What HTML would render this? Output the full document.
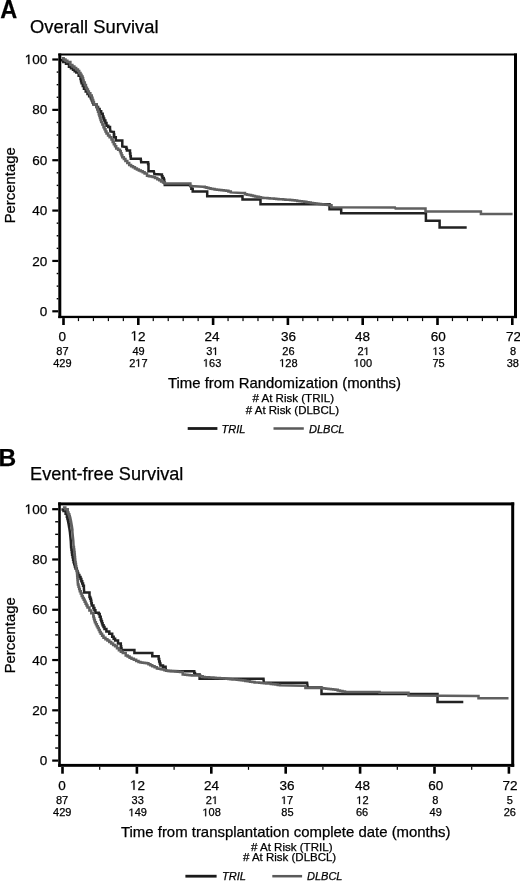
<!DOCTYPE html>
<html><head><meta charset="utf-8"><style>
html,body{margin:0;padding:0;background:#fff;}
svg text{stroke:#000;stroke-width:0.25px;}
svg{display:block;font-family:"Liberation Sans", sans-serif;will-change:transform;}
</style></head><body>
<svg width="520" height="881" viewBox="0 0 520 881">
<rect x="0" y="0" width="520" height="881" fill="#fff"/>
<text x="0.2" y="17.8" font-size="25" font-weight="bold" fill="#000" textLength="17" lengthAdjust="spacingAndGlyphs">A</text>
<text x="30" y="33.2" font-size="19.2" textLength="128.5" lengthAdjust="spacingAndGlyphs" fill="#000">Overall Survival</text>
<text x="-1.6" y="465.5" font-size="24.5" fill="#000"><tspan font-weight="bold">B</tspan></text>
<text x="30.1" y="480.2" font-size="18.6" textLength="153.3" lengthAdjust="spacingAndGlyphs" fill="#000">Event-free Survival</text>
<polyline points="60.61,60.13 63.31,60.13 63.31,61.94 66.01,61.94 66.01,63.76 68.96,63.76 68.96,66.71 70.98,66.71 70.98,68.23 73,68.23 73,69.75 74.66,69.75 74.66,71.17 76.32,71.17 76.32,72.59 78.65,72.59 78.65,75.87 80.52,75.87 80.52,79.1 81.05,79.1 81.05,81.17 81.59,81.17 81.59,83.24 82.78,83.24 82.78,85.98 83.97,85.98 83.97,88.72 85.72,88.72 85.72,91.42 87.48,91.42 87.48,94.12 89.13,94.12 89.13,96.24 90.78,96.24 90.78,98.36 91.67,98.36 91.67,100.37 92.56,100.37 92.56,102.38 93.45,102.38 93.45,104.39 96.5,104.39 96.5,107 98.05,107 98.05,109.1 99.6,109.1 99.6,111.2 101.15,111.2 101.15,113.85 102.7,113.85 102.7,116.5 103.45,116.5 103.45,118.45 104.2,118.45 104.2,120.4 105.35,120.4 105.35,123.1 106.5,123.1 106.5,125.8 108.25,125.8 108.25,126.95 110,126.95 110,128.1 110.4,131.5 113.5,131.9 113.85,131.9 113.85,134.6 114.2,134.6 114.2,137.3 115.8,137.3 115.8,140.4 122.3,140.4 122.3,146.5 125.8,146.9 126.35,146.9 126.35,148.65 126.9,148.65 126.9,150.4 130,150.4 130,153.5 130.4,153.5 130.4,156.15 130.8,156.15 130.8,158.8 140.8,158.8 141.2,162.3 147.7,162.3 148.1,162.3 148.1,164.05 148.5,164.05 148.5,165.8 148.5,171.2 153.8,171.2 154.4,174 161.3,174.6 161.9,174.6 161.9,176.3 162.5,176.3 162.5,178 163.7,178 163.7,179.8 164.25,179.8 164.25,182.4 164.8,182.4 164.8,185 189.6,185 190,186 191.35,186 191.35,188.75 192.7,188.75 192.7,191.5 207.2,191.5 207.2,196.2 242.5,196.2 242.5,199.5 260.5,199.5 260.5,204.2 329.5,204.2 329.5,209.2 341.2,209.2 341.2,213.3 425.9,213.3 425.9,220.8 439.6,220.8 439.6,227.4 466.7,227.4" fill="none" stroke="#222" stroke-width="2.5" stroke-linejoin="miter" stroke-linecap="butt"/>
<polyline points="61.83,58.3 63.68,58.3 63.68,59.54 65.53,59.54 65.53,60.79 67.37,60.79 67.37,62.03 70.39,62.03 70.39,65.04 72.38,65.04 72.38,66.54 74.37,66.54 74.37,68.03 76.16,68.03 76.16,69.56 77.94,69.56 77.94,71.09 79.22,71.09 79.22,72.88 80.5,72.88 80.5,74.68 81.53,74.68 81.53,76.48 82.56,76.48 82.56,78.28 83.11,78.28 83.11,80.39 83.66,80.39 83.66,82.5 84.8,82.5 84.8,85.11 85.94,85.11 85.94,87.73 86.92,87.73 86.92,89.58 87.9,89.58 87.9,91.42 88.88,91.42 88.88,93.27 90.33,93.27 90.33,95.57 91.77,95.57 91.77,97.87 92.49,97.87 92.49,99.95 93.21,99.95 93.21,102.04 93.93,102.04 93.93,104.13 96.5,104.13 96.5,107 97.27,107 97.27,109.4 98.03,109.4 98.03,111.8 98.8,111.8 98.8,114.2 99.4,114.2 99.4,116.12 100,116.12 100,118.05 100.6,118.05 100.6,119.98 101.2,119.98 101.2,121.9 102.35,121.9 102.35,124.6 103.5,124.6 103.5,127.3 104.5,127.3 104.5,129.37 105.5,129.37 105.5,131.43 106.5,131.43 106.5,133.5 108.05,133.5 108.05,135.4 109.6,135.4 109.6,137.3 111.5,137.3 111.5,139.6 112.65,139.6 112.65,141.9 113.8,141.9 113.8,144.2 115,144.2 115,146.35 116.2,146.35 116.2,148.5 118.1,148.5 118.1,149.85 120,149.85 120,151.2 120.77,151.2 120.77,153.2 121.53,153.2 121.53,155.2 122.3,155.2 122.3,157.2 123.85,157.2 123.85,159.1 125.4,159.1 125.4,161 127.3,161 127.3,163 129.2,163 129.2,165 131.1,165 131.1,166.15 133,166.15 133,167.3 134.95,167.3 134.95,168.45 136.9,168.45 136.9,169.6 138.85,169.6 138.85,170.4 140.8,170.4 140.8,171.2 142.7,171.2 142.7,172.35 144.6,172.35 144.6,173.5 147,173.5 147,175.8 148.9,175.8 148.9,176.17 150.8,176.17 150.8,176.53 152.7,176.53 152.7,176.9 155,176.9 155,178.05 157.3,178.05 157.3,179.2 159.2,179.2 159.2,180.3 161.1,180.3 161.1,181.4 163,181.4 163,182.5 164.8,182.5 164.8,183.5 189.4,183.5 190.4,183.5 190.4,186.1 203,186.7 204.75,186.7 204.75,187.25 206.5,187.25 206.5,187.8 208.53,187.8 208.53,188.23 210.55,188.23 210.55,188.65 212.57,188.65 212.57,189.07 214.6,189.07 214.6,189.5 216.88,189.5 216.88,189.74 219.16,189.74 219.16,189.98 221.44,189.98 221.44,190.22 223.72,190.22 223.72,190.46 226,190.46 226,190.7 228.4,190.7 228.4,191.55 230.8,191.55 230.8,192.4 242,193 245,193 245,194.2 247,194.2 247,194.65 249,194.65 249,195.1 251,195.1 251,195.55 253,195.55 253,196 255,196 255,196.43 257,196.43 257,196.85 259,196.85 259,197.27 261,197.27 261,197.7 263.17,197.7 263.17,197.88 265.33,197.88 265.33,198.07 267.5,198.07 267.5,198.25 269.67,198.25 269.67,198.43 271.83,198.43 271.83,198.62 274,198.62 274,198.8 276.29,198.8 276.29,198.97 278.57,198.97 278.57,199.14 280.86,199.14 280.86,199.31 283.14,199.31 283.14,199.49 285.43,199.49 285.43,199.66 287.71,199.66 287.71,199.83 290,199.83 290,200 292.4,200 292.4,200.3 294.8,200.3 294.8,200.6 297.2,200.6 297.2,200.9 299.6,200.9 299.6,201.2 302,201.2 302,201.5 304.2,201.5 304.2,201.86 306.4,201.86 306.4,202.22 308.6,202.22 308.6,202.58 310.8,202.58 310.8,202.94 313,202.94 313,203.3 315,203.3 315,203.52 317,203.52 317,203.74 319,203.74 319,203.96 321,203.96 321,204.18 323,204.18 323,204.4 325.33,204.4 325.33,204.67 327.67,204.67 327.67,204.93 330,204.93 330,205.2 331.5,205.2 331.5,207.3 395,207.4 395.5,208.4 424.8,208.4 425.5,208.4 425.5,211.6 479.8,211.5 480.9,211.5 480.9,214 512.6,214" fill="none" stroke="#606060" stroke-width="2.5" stroke-linejoin="miter" stroke-linecap="butt"/>
<rect x="58.3" y="53.5" width="3" height="264.6" fill="#000"/>
<rect x="58.3" y="53.5" width="458.7" height="2" fill="#000"/>
<rect x="514" y="53.5" width="3" height="264.6" fill="#000"/>
<rect x="58.3" y="315.8" width="458.7" height="2.3" fill="#000"/>
<rect x="52.3" y="310.2" width="6" height="2.2" fill="#000"/>
<text x="39.79" y="315.9" font-size="13.5" fill="#000">0</text>
<rect x="56.7" y="298.01" width="1.6" height="1.4" fill="#000"/>
<rect x="56.7" y="285.42" width="1.6" height="1.4" fill="#000"/>
<rect x="56.7" y="272.83" width="1.6" height="1.4" fill="#000"/>
<rect x="52.3" y="259.84" width="6" height="2.2" fill="#000"/>
<text x="32.28" y="265.54" font-size="13.5" fill="#000">2</text>
<text x="39.79" y="265.54" font-size="13.5" fill="#000">0</text>
<rect x="56.7" y="247.65" width="1.6" height="1.4" fill="#000"/>
<rect x="56.7" y="235.06" width="1.6" height="1.4" fill="#000"/>
<rect x="56.7" y="222.47" width="1.6" height="1.4" fill="#000"/>
<rect x="52.3" y="209.48" width="6" height="2.2" fill="#000"/>
<text x="32.28" y="215.18" font-size="13.5" fill="#000">4</text>
<text x="39.79" y="215.18" font-size="13.5" fill="#000">0</text>
<rect x="56.7" y="197.29" width="1.6" height="1.4" fill="#000"/>
<rect x="56.7" y="184.7" width="1.6" height="1.4" fill="#000"/>
<rect x="56.7" y="172.11" width="1.6" height="1.4" fill="#000"/>
<rect x="52.3" y="159.12" width="6" height="2.2" fill="#000"/>
<text x="32.28" y="164.82" font-size="13.5" fill="#000">6</text>
<text x="39.79" y="164.82" font-size="13.5" fill="#000">0</text>
<rect x="56.7" y="146.93" width="1.6" height="1.4" fill="#000"/>
<rect x="56.7" y="134.34" width="1.6" height="1.4" fill="#000"/>
<rect x="56.7" y="121.75" width="1.6" height="1.4" fill="#000"/>
<rect x="52.3" y="108.76" width="6" height="2.2" fill="#000"/>
<text x="32.28" y="114.46" font-size="13.5" fill="#000">8</text>
<text x="39.79" y="114.46" font-size="13.5" fill="#000">0</text>
<rect x="56.7" y="96.57" width="1.6" height="1.4" fill="#000"/>
<rect x="56.7" y="83.98" width="1.6" height="1.4" fill="#000"/>
<rect x="56.7" y="71.39" width="1.6" height="1.4" fill="#000"/>
<rect x="52.3" y="58.4" width="6" height="2.2" fill="#000"/>
<path d="M28.17,64.1 L28.17,55.95 L26.07,57.44 L26.07,56.32 L28.27,54.81 L29.36,54.81 L29.36,64.1 Z" fill="#000" stroke="#000" stroke-width="0.25"/>
<text x="32.28" y="64.1" font-size="13.5" fill="#000">0</text>
<text x="39.79" y="64.1" font-size="13.5" fill="#000">0</text>
<rect x="62.2" y="318.1" width="2.6" height="6.9" fill="#000"/>
<text x="58.55" y="340.5" font-size="13.5" fill="#000">0</text>
<text x="56.28" y="355" font-size="11" fill="#000">8</text>
<text x="62.4" y="355" font-size="11" fill="#000">7</text>
<text x="53.22" y="366.7" font-size="11" fill="#000">4</text>
<text x="59.34" y="366.7" font-size="11" fill="#000">2</text>
<text x="65.46" y="366.7" font-size="11" fill="#000">9</text>
<rect x="77.86" y="318.1" width="1.2" height="3" fill="#000"/>
<rect x="92.82" y="318.1" width="1.2" height="3" fill="#000"/>
<rect x="107.78" y="318.1" width="1.2" height="3" fill="#000"/>
<rect x="122.74" y="318.1" width="1.2" height="3" fill="#000"/>
<rect x="137" y="318.1" width="2.6" height="6.9" fill="#000"/>
<path d="M133.99,340.5 L133.99,332.35 L131.89,333.84 L131.89,332.72 L134.09,331.21 L135.18,331.21 L135.18,340.5 Z" fill="#000" stroke="#000" stroke-width="0.25"/>
<text x="138.1" y="340.5" font-size="13.5" fill="#000">2</text>
<text x="132.48" y="355" font-size="11" fill="#000">4</text>
<text x="138.6" y="355" font-size="11" fill="#000">9</text>
<text x="129.22" y="366.7" font-size="11" fill="#000">2</text>
<path d="M138.11,366.7 L138.11,360.06 L136.4,361.28 L136.4,360.36 L138.19,359.13 L139.08,359.13 L139.08,366.7 Z" fill="#000" stroke="#000" stroke-width="0.25"/>
<text x="141.46" y="366.7" font-size="11" fill="#000">7</text>
<rect x="152.66" y="318.1" width="1.2" height="3" fill="#000"/>
<rect x="167.62" y="318.1" width="1.2" height="3" fill="#000"/>
<rect x="182.58" y="318.1" width="1.2" height="3" fill="#000"/>
<rect x="197.54" y="318.1" width="1.2" height="3" fill="#000"/>
<rect x="211.8" y="318.1" width="2.6" height="6.9" fill="#000"/>
<text x="204.59" y="340.5" font-size="13.5" fill="#000">2</text>
<text x="212.1" y="340.5" font-size="13.5" fill="#000">4</text>
<text x="206.18" y="355" font-size="11" fill="#000">3</text>
<path d="M215.07,355 L215.07,348.36 L213.36,349.58 L213.36,348.66 L215.15,347.43 L216.04,347.43 L216.04,355 Z" fill="#000" stroke="#000" stroke-width="0.25"/>
<path d="M205.69,366.7 L205.69,360.06 L203.98,361.28 L203.98,360.36 L205.77,359.13 L206.66,359.13 L206.66,366.7 Z" fill="#000" stroke="#000" stroke-width="0.25"/>
<text x="209.04" y="366.7" font-size="11" fill="#000">6</text>
<text x="215.16" y="366.7" font-size="11" fill="#000">3</text>
<rect x="227.46" y="318.1" width="1.2" height="3" fill="#000"/>
<rect x="242.42" y="318.1" width="1.2" height="3" fill="#000"/>
<rect x="257.38" y="318.1" width="1.2" height="3" fill="#000"/>
<rect x="272.34" y="318.1" width="1.2" height="3" fill="#000"/>
<rect x="286.6" y="318.1" width="2.6" height="6.9" fill="#000"/>
<text x="280.89" y="340.5" font-size="13.5" fill="#000">3</text>
<text x="288.4" y="340.5" font-size="13.5" fill="#000">6</text>
<text x="282.28" y="355" font-size="11" fill="#000">2</text>
<text x="288.4" y="355" font-size="11" fill="#000">6</text>
<path d="M281.99,366.7 L281.99,360.06 L280.28,361.28 L280.28,360.36 L282.07,359.13 L282.96,359.13 L282.96,366.7 Z" fill="#000" stroke="#000" stroke-width="0.25"/>
<text x="285.34" y="366.7" font-size="11" fill="#000">2</text>
<text x="291.46" y="366.7" font-size="11" fill="#000">8</text>
<rect x="302.26" y="318.1" width="1.2" height="3" fill="#000"/>
<rect x="317.22" y="318.1" width="1.2" height="3" fill="#000"/>
<rect x="332.18" y="318.1" width="1.2" height="3" fill="#000"/>
<rect x="347.14" y="318.1" width="1.2" height="3" fill="#000"/>
<rect x="361.4" y="318.1" width="2.6" height="6.9" fill="#000"/>
<text x="355.09" y="340.5" font-size="13.5" fill="#000">4</text>
<text x="362.6" y="340.5" font-size="13.5" fill="#000">8</text>
<text x="357.38" y="355" font-size="11" fill="#000">2</text>
<path d="M366.27,355 L366.27,348.36 L364.56,349.58 L364.56,348.66 L366.35,347.43 L367.24,347.43 L367.24,355 Z" fill="#000" stroke="#000" stroke-width="0.25"/>
<path d="M356.49,366.7 L356.49,360.06 L354.78,361.28 L354.78,360.36 L356.57,359.13 L357.46,359.13 L357.46,366.7 Z" fill="#000" stroke="#000" stroke-width="0.25"/>
<text x="359.84" y="366.7" font-size="11" fill="#000">0</text>
<text x="365.96" y="366.7" font-size="11" fill="#000">0</text>
<rect x="377.06" y="318.1" width="1.2" height="3" fill="#000"/>
<rect x="392.02" y="318.1" width="1.2" height="3" fill="#000"/>
<rect x="406.98" y="318.1" width="1.2" height="3" fill="#000"/>
<rect x="421.94" y="318.1" width="1.2" height="3" fill="#000"/>
<rect x="436.2" y="318.1" width="2.6" height="6.9" fill="#000"/>
<text x="430.69" y="340.5" font-size="13.5" fill="#000">6</text>
<text x="438.2" y="340.5" font-size="13.5" fill="#000">0</text>
<path d="M435.25,355 L435.25,348.36 L433.54,349.58 L433.54,348.66 L435.33,347.43 L436.22,347.43 L436.22,355 Z" fill="#000" stroke="#000" stroke-width="0.25"/>
<text x="438.6" y="355" font-size="11" fill="#000">3</text>
<text x="432.48" y="366.7" font-size="11" fill="#000">7</text>
<text x="438.6" y="366.7" font-size="11" fill="#000">5</text>
<rect x="451.86" y="318.1" width="1.2" height="3" fill="#000"/>
<rect x="466.82" y="318.1" width="1.2" height="3" fill="#000"/>
<rect x="481.78" y="318.1" width="1.2" height="3" fill="#000"/>
<rect x="496.74" y="318.1" width="1.2" height="3" fill="#000"/>
<rect x="511" y="318.1" width="2.6" height="6.9" fill="#000"/>
<text x="505.89" y="340.5" font-size="13.5" fill="#000">7</text>
<text x="513.4" y="340.5" font-size="13.5" fill="#000">2</text>
<text x="510.04" y="355" font-size="11" fill="#000">8</text>
<text x="506.68" y="366.7" font-size="11" fill="#000">3</text>
<text x="512.8" y="366.7" font-size="11" fill="#000">8</text>
<polyline points="61.41,509.51 63.53,509.51 63.53,511.05 65.61,511.05 65.61,513.76 66.88,513.76 66.88,516.79 67.36,516.79 67.36,518.56 67.84,518.56 67.84,520.34 68.23,520.34 68.23,522.31 68.63,522.31 68.63,524.28 68.97,524.28 68.97,526.26 69.32,526.26 69.32,528.24 69.91,532.18 70.41,537.15 70.8,541.1 71.11,547.14 71.44,547.14 71.44,549.69 71.78,549.69 71.78,552.25 72.11,552.25 72.11,554.8 72.61,554.8 72.61,557.26 73.11,557.26 73.11,559.71 73.61,559.71 73.61,562.17 74.25,562.17 74.25,564.32 74.88,564.32 74.88,566.47 75.51,566.47 75.51,568.62 76.8,568.62 76.8,571 77.5,571 77.5,573 78.2,573 78.2,575 79.35,575 79.35,577 80.5,577 80.5,579 81.35,579 81.35,581.25 82.2,581.25 82.2,583.5 83.05,583.5 83.05,585.75 83.9,585.75 83.9,588 84.2,592.4 89.5,592.4 89.5,596.9 90.2,596.9 90.2,598.85 90.9,598.85 90.9,600.8 91.35,600.8 91.35,603.2 91.8,603.2 91.8,605.6 93.4,605.6 93.4,607.9 94.4,607.9 94.4,610.3 95.4,610.3 95.4,612.7 98.7,612.7 98.7,614.1 99.7,614.1 99.7,616.75 100.7,616.75 100.7,619.4 101.33,619.4 101.33,621.33 101.97,621.33 101.97,623.27 102.6,623.27 102.6,625.2 103.55,625.2 103.55,627.1 104.5,627.1 104.5,629 106.4,629 106.4,631.4 109.3,631.4 109.3,633.8 112.2,633.8 112.2,636.7 113.65,636.7 113.65,638.65 115.1,638.65 115.1,640.6 118,640.6 118,643.5 120.8,643.5 120.8,646.3 121.15,646.3 121.15,648.15 121.5,648.15 121.5,650 134.4,650 134.4,653 152.3,653 152.3,656.3 158.1,656.3 158.65,656.3 158.65,658.9 159.2,658.9 159.2,661.5 159.8,661.5 159.8,663.55 160.4,663.55 160.4,665.6 163,665.6 163,666.75 165.6,666.75 165.6,667.9 166.2,670.8 180,671.2 193.5,671.2 194.25,671.2 194.25,672.9 195,672.9 195,674.6 199.6,674.6 199.6,678.8 263.5,678.8 263.8,682.7 307.1,682.7 307.7,687.5 321.5,687.5 321.5,693.9 437.5,693.9 437.5,701.9 463.3,701.9" fill="none" stroke="#222" stroke-width="2.5" stroke-linejoin="miter" stroke-linecap="butt"/>
<polyline points="62.89,507.5 65.31,507.5 65.31,509.3 67.76,509.3 67.76,512.49 68.5,512.49 68.5,514.23 69.25,514.23 69.25,515.98 69.76,515.98 69.76,517.87 70.27,517.87 70.27,519.77 70.68,519.77 70.68,521.79 71.08,521.79 71.08,523.82 71.43,523.82 71.43,525.83 71.79,525.83 71.79,527.84 72.09,527.84 72.09,529.86 72.39,529.86 72.39,531.88 72.9,536.9 73.3,540.93 73.6,546.9 73.93,546.9 73.93,549.43 74.26,549.43 74.26,551.95 74.59,551.95 74.59,554.47 74.81,554.47 74.81,556.94 75.04,556.94 75.04,559.41 75.26,559.41 75.26,561.89 75.61,561.89 75.61,564.06 75.97,564.06 75.97,566.24 76.32,566.24 76.32,568.42 76.8,571 76.98,571 76.98,573.23 77.17,573.23 77.17,575.47 77.35,575.47 77.35,577.7 77.53,577.7 77.53,579.93 77.72,579.93 77.72,582.17 77.9,582.17 77.9,584.4 78.53,584.4 78.53,586.67 79.17,586.67 79.17,588.93 79.8,588.93 79.8,591.2 80.75,591.2 80.75,593.6 81.7,593.6 81.7,596 82.7,596 82.7,597.9 83.7,597.9 83.7,599.8 84.65,599.8 84.65,601.75 85.6,601.75 85.6,603.7 86.55,603.7 86.55,605.6 87.5,605.6 87.5,607.5 89.4,607.5 89.4,610.4 91.3,610.4 91.3,613.3 93.3,613.3 93.3,616.5 93.83,616.5 93.83,618.43 94.37,618.43 94.37,620.37 94.9,620.37 94.9,622.3 95.87,622.3 95.87,624.23 96.83,624.23 96.83,626.17 97.8,626.17 97.8,628.1 98.77,628.1 98.77,630 99.73,630 99.73,631.9 100.7,631.9 100.7,633.8 102.1,633.8 102.1,635.75 103.5,635.75 103.5,637.7 105.45,637.7 105.45,639.15 107.4,639.15 107.4,640.6 109.3,640.6 109.3,642.05 111.2,642.05 111.2,643.5 113.15,643.5 113.15,644.9 115.1,644.9 115.1,646.3 117,646.3 117,648.25 118.9,648.25 118.9,650.2 120.85,650.2 120.85,651.65 122.8,651.65 122.8,653.1 125.7,653.1 125.7,655.5 127.63,655.5 127.63,656.57 129.57,656.57 129.57,657.63 131.5,657.63 131.5,658.7 133.83,658.7 133.83,659.83 136.17,659.83 136.17,660.97 138.5,660.97 138.5,662.1 140.5,662.1 140.5,662.4 142.5,662.4 142.5,662.7 144.5,662.7 144.5,663 146.5,663 146.5,663.3 148.43,663.3 148.43,664.27 150.37,664.27 150.37,665.23 152.3,665.23 152.3,666.2 154.6,666.2 154.6,667.35 156.9,667.35 156.9,668.5 158.83,668.5 158.83,668.87 160.77,668.87 160.77,669.23 162.7,669.23 162.7,669.6 164.45,669.6 164.45,670.2 166.2,670.2 166.2,670.8 168.5,670.8 168.5,670.98 170.8,670.98 170.8,671.17 173.1,671.17 173.1,671.35 175.4,671.35 175.4,671.53 177.7,671.53 177.7,671.72 180,671.72 180,671.9 182.7,671.9 182.7,674.6 185,674.6 185,674.8 187.3,674.8 187.3,675 189.6,675 189.6,675.2 191.9,675.2 191.9,675.4 198,675.4 200.35,675.4 200.35,676.2 202.7,676.2 202.7,677 204.85,677 204.85,677.15 207,677.15 207,677.3 209.15,677.3 209.15,677.45 211.3,677.45 211.3,677.6 213.45,677.6 213.45,677.75 215.6,677.75 215.6,677.9 217.75,677.9 217.75,678.05 219.9,678.05 219.9,678.2 222.05,678.2 222.05,678.35 224.2,678.35 224.2,678.5 226.29,678.5 226.29,678.72 228.38,678.72 228.38,678.94 230.47,678.94 230.47,679.17 232.56,679.17 232.56,679.39 234.64,679.39 234.64,679.61 236.73,679.61 236.73,679.83 238.82,679.83 238.82,680.06 240.91,680.06 240.91,680.28 243,680.28 243,680.5 245.32,680.5 245.32,680.88 247.64,680.88 247.64,681.26 249.96,681.26 249.96,681.64 252.28,681.64 252.28,682.02 254.6,682.02 254.6,682.4 256.92,682.4 256.92,682.6 259.23,682.6 259.23,682.8 261.55,682.8 261.55,683 263.87,683 263.87,683.2 266.18,683.2 266.18,683.4 268.5,683.4 268.5,683.6 270.8,683.6 270.8,683.94 273.1,683.94 273.1,684.28 275.4,684.28 275.4,684.62 277.7,684.62 277.7,684.96 280,684.96 280,685.3 303,685.8 305.4,685.8 305.4,688.1 320.4,688 322.33,688 322.33,688.23 324.27,688.23 324.27,688.47 326.2,688.47 326.2,688.7 328.5,688.7 328.5,688.98 330.8,688.98 330.8,689.25 333.1,689.25 333.1,689.52 335.4,689.52 335.4,689.8 337.7,689.8 337.7,690.4 340,690.4 340,691 342.5,691 342.5,691.5 345,691.5 345,692 378.5,692 379.6,692 379.6,692.8 407.3,692.8 408.5,692.8 408.5,695.6 477.9,696 478.5,696 478.5,698.3 508.5,698.3" fill="none" stroke="#606060" stroke-width="2.5" stroke-linejoin="miter" stroke-linecap="butt"/>
<rect x="58.2" y="502.4" width="2.6" height="264.4" fill="#000"/>
<rect x="58.2" y="502.4" width="456" height="3" fill="#000"/>
<rect x="511.2" y="502.4" width="3" height="264.4" fill="#000"/>
<rect x="58.2" y="763.9" width="456" height="2.9" fill="#000"/>
<rect x="52.2" y="759.5" width="6" height="2.2" fill="#000"/>
<text x="39.69" y="765.2" font-size="13.5" fill="#000">0</text>
<rect x="55.2" y="747.33" width="3" height="1.4" fill="#000"/>
<rect x="55.2" y="734.76" width="3" height="1.4" fill="#000"/>
<rect x="55.2" y="722.19" width="3" height="1.4" fill="#000"/>
<rect x="52.2" y="709.22" width="6" height="2.2" fill="#000"/>
<text x="32.18" y="714.92" font-size="13.5" fill="#000">2</text>
<text x="39.69" y="714.92" font-size="13.5" fill="#000">0</text>
<rect x="55.2" y="697.05" width="3" height="1.4" fill="#000"/>
<rect x="55.2" y="684.48" width="3" height="1.4" fill="#000"/>
<rect x="55.2" y="671.91" width="3" height="1.4" fill="#000"/>
<rect x="52.2" y="658.94" width="6" height="2.2" fill="#000"/>
<text x="32.18" y="664.64" font-size="13.5" fill="#000">4</text>
<text x="39.69" y="664.64" font-size="13.5" fill="#000">0</text>
<rect x="55.2" y="646.77" width="3" height="1.4" fill="#000"/>
<rect x="55.2" y="634.2" width="3" height="1.4" fill="#000"/>
<rect x="55.2" y="621.63" width="3" height="1.4" fill="#000"/>
<rect x="52.2" y="608.66" width="6" height="2.2" fill="#000"/>
<text x="32.18" y="614.36" font-size="13.5" fill="#000">6</text>
<text x="39.69" y="614.36" font-size="13.5" fill="#000">0</text>
<rect x="55.2" y="596.49" width="3" height="1.4" fill="#000"/>
<rect x="55.2" y="583.92" width="3" height="1.4" fill="#000"/>
<rect x="55.2" y="571.35" width="3" height="1.4" fill="#000"/>
<rect x="52.2" y="558.38" width="6" height="2.2" fill="#000"/>
<text x="32.18" y="564.08" font-size="13.5" fill="#000">8</text>
<text x="39.69" y="564.08" font-size="13.5" fill="#000">0</text>
<rect x="55.2" y="546.21" width="3" height="1.4" fill="#000"/>
<rect x="55.2" y="533.64" width="3" height="1.4" fill="#000"/>
<rect x="55.2" y="521.07" width="3" height="1.4" fill="#000"/>
<rect x="52.2" y="508.1" width="6" height="2.2" fill="#000"/>
<path d="M28.07,513.8 L28.07,505.65 L25.97,507.14 L25.97,506.02 L28.17,504.51 L29.26,504.51 L29.26,513.8 Z" fill="#000" stroke="#000" stroke-width="0.25"/>
<text x="32.18" y="513.8" font-size="13.5" fill="#000">0</text>
<text x="39.69" y="513.8" font-size="13.5" fill="#000">0</text>
<rect x="61.2" y="766.8" width="2.6" height="6.9" fill="#000"/>
<text x="58.35" y="789.7" font-size="13.5" fill="#000">0</text>
<text x="55.88" y="804" font-size="11" fill="#000">8</text>
<text x="62" y="804" font-size="11" fill="#000">7</text>
<text x="53.12" y="816.2" font-size="11" fill="#000">4</text>
<text x="59.24" y="816.2" font-size="11" fill="#000">2</text>
<text x="65.36" y="816.2" font-size="11" fill="#000">9</text>
<rect x="99.1" y="766.8" width="1.2" height="3" fill="#000"/>
<rect x="135.6" y="766.8" width="2.6" height="6.9" fill="#000"/>
<path d="M133.39,789.7 L133.39,781.55 L131.29,783.04 L131.29,781.92 L133.49,780.41 L134.58,780.41 L134.58,789.7 Z" fill="#000" stroke="#000" stroke-width="0.25"/>
<text x="137.5" y="789.7" font-size="13.5" fill="#000">2</text>
<text x="131.58" y="804" font-size="11" fill="#000">3</text>
<text x="137.7" y="804" font-size="11" fill="#000">3</text>
<path d="M131.29,816.2 L131.29,809.56 L129.58,810.78 L129.58,809.86 L131.37,808.63 L132.26,808.63 L132.26,816.2 Z" fill="#000" stroke="#000" stroke-width="0.25"/>
<text x="134.64" y="816.2" font-size="11" fill="#000">4</text>
<text x="140.76" y="816.2" font-size="11" fill="#000">9</text>
<rect x="173.5" y="766.8" width="1.2" height="3" fill="#000"/>
<rect x="210" y="766.8" width="2.6" height="6.9" fill="#000"/>
<text x="204.09" y="789.7" font-size="13.5" fill="#000">2</text>
<text x="211.6" y="789.7" font-size="13.5" fill="#000">4</text>
<text x="205.78" y="804" font-size="11" fill="#000">2</text>
<path d="M214.67,804 L214.67,797.36 L212.96,798.58 L212.96,797.66 L214.75,796.43 L215.64,796.43 L215.64,804 Z" fill="#000" stroke="#000" stroke-width="0.25"/>
<path d="M205.19,816.2 L205.19,809.56 L203.48,810.78 L203.48,809.86 L205.27,808.63 L206.16,808.63 L206.16,816.2 Z" fill="#000" stroke="#000" stroke-width="0.25"/>
<text x="208.54" y="816.2" font-size="11" fill="#000">0</text>
<text x="214.66" y="816.2" font-size="11" fill="#000">8</text>
<rect x="247.9" y="766.8" width="1.2" height="3" fill="#000"/>
<rect x="284.4" y="766.8" width="2.6" height="6.9" fill="#000"/>
<text x="279.59" y="789.7" font-size="13.5" fill="#000">3</text>
<text x="287.1" y="789.7" font-size="13.5" fill="#000">6</text>
<path d="M283.75,804 L283.75,797.36 L282.04,798.58 L282.04,797.66 L283.83,796.43 L284.72,796.43 L284.72,804 Z" fill="#000" stroke="#000" stroke-width="0.25"/>
<text x="287.1" y="804" font-size="11" fill="#000">7</text>
<text x="281.28" y="816.2" font-size="11" fill="#000">8</text>
<text x="287.4" y="816.2" font-size="11" fill="#000">5</text>
<rect x="322.3" y="766.8" width="1.2" height="3" fill="#000"/>
<rect x="358.8" y="766.8" width="2.6" height="6.9" fill="#000"/>
<text x="354.99" y="789.7" font-size="13.5" fill="#000">4</text>
<text x="362.5" y="789.7" font-size="13.5" fill="#000">8</text>
<path d="M359.05,804 L359.05,797.36 L357.34,798.58 L357.34,797.66 L359.13,796.43 L360.02,796.43 L360.02,804 Z" fill="#000" stroke="#000" stroke-width="0.25"/>
<text x="362.4" y="804" font-size="11" fill="#000">2</text>
<text x="355.98" y="816.2" font-size="11" fill="#000">6</text>
<text x="362.1" y="816.2" font-size="11" fill="#000">6</text>
<rect x="396.7" y="766.8" width="1.2" height="3" fill="#000"/>
<rect x="433.2" y="766.8" width="2.6" height="6.9" fill="#000"/>
<text x="428.29" y="789.7" font-size="13.5" fill="#000">6</text>
<text x="435.8" y="789.7" font-size="13.5" fill="#000">0</text>
<text x="432.14" y="804" font-size="11" fill="#000">8</text>
<text x="429.58" y="816.2" font-size="11" fill="#000">4</text>
<text x="435.7" y="816.2" font-size="11" fill="#000">9</text>
<rect x="471.1" y="766.8" width="1.2" height="3" fill="#000"/>
<rect x="507.6" y="766.8" width="2.6" height="6.9" fill="#000"/>
<text x="502.49" y="789.7" font-size="13.5" fill="#000">7</text>
<text x="510" y="789.7" font-size="13.5" fill="#000">2</text>
<text x="506.84" y="804" font-size="11" fill="#000">5</text>
<text x="503.68" y="816.2" font-size="11" fill="#000">2</text>
<text x="509.8" y="816.2" font-size="11" fill="#000">6</text>
<text transform="translate(15.1,185.3) rotate(-90)" x="0" y="0" font-size="14" text-anchor="middle" textLength="76" lengthAdjust="spacingAndGlyphs" fill="#000">Percentage</text>
<text transform="translate(15.1,635.3) rotate(-90)" x="0" y="0" font-size="14" text-anchor="middle" textLength="76" lengthAdjust="spacingAndGlyphs" fill="#000">Percentage</text>
<text x="168" y="387.5" font-size="14.2" textLength="233" lengthAdjust="spacingAndGlyphs" fill="#000">Time from Randomization (months)</text>
<text x="252.5" y="401.8" font-size="10.8" textLength="81.5" lengthAdjust="spacingAndGlyphs" fill="#000"># At Risk (TRIL)</text>
<text x="245.8" y="414" font-size="10.8" textLength="93.2" lengthAdjust="spacingAndGlyphs" fill="#000"># At Risk (DLBCL)</text>
<text x="121" y="836.5" font-size="14.2" textLength="329.5" lengthAdjust="spacingAndGlyphs" fill="#000">Time from transplantation complete date (months)</text>
<text x="251" y="850.5" font-size="10.8" textLength="81.5" lengthAdjust="spacingAndGlyphs" fill="#000"># At Risk (TRIL)</text>
<text x="243" y="861.1" font-size="10.8" textLength="93.2" lengthAdjust="spacingAndGlyphs" fill="#000"># At Risk (DLBCL)</text>
<rect x="187.7" y="427.1" width="29.7" height="2.8" fill="#1a1a1a"/>
<text x="221.5" y="433.1" font-size="11" textLength="24" lengthAdjust="spacingAndGlyphs" font-style="italic" fill="#000">TRIL</text>
<rect x="273.5" y="427.25" width="30.3" height="2.5" fill="#5a5a5a"/>
<text x="309" y="433.1" font-size="11" textLength="35.5" lengthAdjust="spacingAndGlyphs" font-style="italic" fill="#000">DLBCL</text>
<rect x="185.4" y="874.8" width="31.2" height="2.8" fill="#1a1a1a"/>
<text x="222" y="879.8" font-size="11" textLength="24" lengthAdjust="spacingAndGlyphs" font-style="italic" fill="#000">TRIL</text>
<rect x="272.3" y="874.95" width="29.8" height="2.5" fill="#5a5a5a"/>
<text x="307" y="879.8" font-size="11" textLength="35.5" lengthAdjust="spacingAndGlyphs" font-style="italic" fill="#000">DLBCL</text>
</svg>
</body></html>
